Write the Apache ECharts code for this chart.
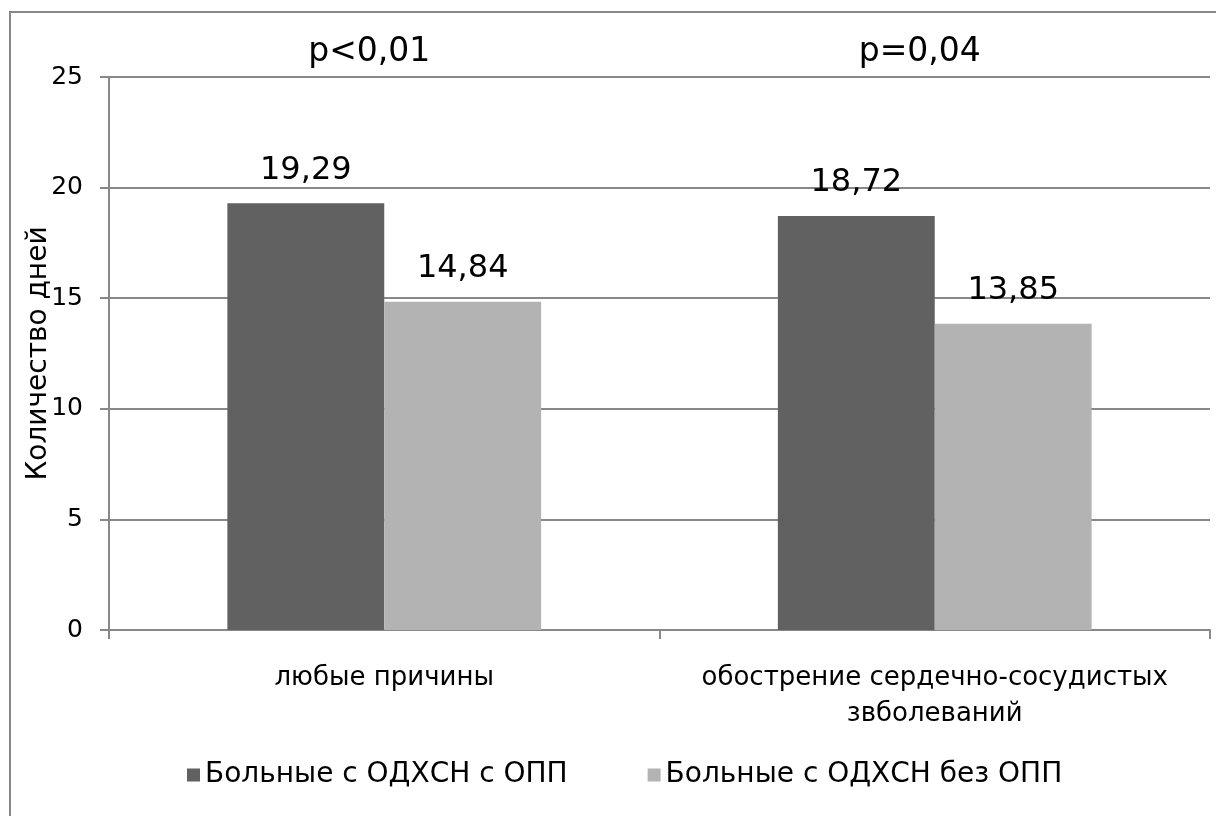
<!DOCTYPE html>
<html>
<head>
<meta charset="utf-8">
<script src="https://cdn.jsdelivr.net/npm/echarts@6/dist/echarts.min.js"></script>
<style>
  html, body { margin: 0; padding: 0; background: #fff; }
  #chart { width: 1216px; height: 816px; }
</style>
</head>
<body>
<div id="chart"></div>
<script>
// Reasons for hospitalisation
const categories = ['любые причины', 'обострение сердечно-сосудистых\nзвболеваний'];
// Mean number of days, by patient group
const seriesNames = ['Больные с ОДХСН с ОПП', 'Больные с ОДХСН без ОПП'];
const withOpp = [19.29, 18.72];
const withoutOpp = [14.84, 13.85];
// Significance of the difference per category
const pValues = ['p<0,01', 'p=0,04'];
const yTicks = { min: 0, max: 25, interval: 5 };

const FONT = 'DejaVu Sans';
const AXIS = '#888888';

const chart = echarts.init(document.getElementById('chart'), null, { renderer: 'canvas' });

const fmt = v => v.toFixed(2).replace('.', ',');

const labelStyle = {
  show: true,
  position: 'top',
  distance: 17,
  fontFamily: FONT,
  fontSize: 32,
  color: '#000',
  formatter: p => fmt(p.value)
};

chart.setOption({
  animation: false,
  backgroundColor: '#fff',
  textStyle: { fontFamily: FONT },
  grid: { left: 109, right: 6, top: 77, bottom: 186, containLabel: false },
  legend: {
    bottom: 22,
    left: 182,
    itemWidth: 13,
    itemHeight: 13,
    itemGap: 80,
    icon: 'rect',
    textStyle: { fontFamily: FONT, fontSize: 28, color: '#000' },
    data: seriesNames
  },
  xAxis: {
    type: 'category',
    data: categories,
    axisLine: { lineStyle: { color: AXIS, width: 2 } },
    axisTick: { show: true, interval: 0, length: 9, lineStyle: { color: AXIS, width: 2 } },
    axisLabel: {
      interval: 0,
      hideOverlap: false,
      fontFamily: FONT,
      fontSize: 26,
      color: '#000',
      margin: 30,
      lineHeight: 36
    }
  },
  yAxis: {
    type: 'value',
    min: yTicks.min,
    max: yTicks.max,
    interval: yTicks.interval,
    name: 'Количество дней',
    nameLocation: 'middle',
    nameRotate: 90,
    nameGap: 56,
    nameMoveOverlap: false,
    nameTextStyle: { fontFamily: FONT, fontSize: 28, color: '#000' },
    axisLine: { show: true, lineStyle: { color: AXIS, width: 2 } },
    axisTick: { show: true, length: 9, lineStyle: { color: AXIS, width: 2 } },
    axisLabel: { fontFamily: FONT, fontSize: 25, color: '#000', margin: 26 },
    splitLine: { lineStyle: { color: AXIS, width: 2 } }
  },
  series: [
    {
      name: seriesNames[0],
      type: 'bar',
      data: withOpp,
      barGap: '0%',
      barCategoryGap: '43%',
      itemStyle: { color: '#616161' },
      label: labelStyle
    },
    {
      name: seriesNames[1],
      type: 'bar',
      data: withoutOpp,
      itemStyle: { color: '#b3b3b3' },
      label: labelStyle
    }
  ]
});

// Chart frame plus p-value annotations centred a little left of each category centre
const graphics = [
  {
    id: 'frame',
    type: 'rect',
    x: 10, y: 12,
    shape: { width: 1230, height: 830 },
    style: { fill: 'transparent', stroke: AXIS, lineWidth: 2 },
    silent: true,
    z: -1
  }
].concat(pValues.map((txt, i) => ({
  id: 'p' + i,
  type: 'text',
  x: chart.convertToPixel({ xAxisIndex: 0 }, i) - 15,
  y: 52,
  style: {
    text: txt,
    fontFamily: FONT,
    fontSize: 33,
    fill: '#000',
    align: 'center',
    verticalAlign: 'middle'
  },
  silent: true
})));
chart.setOption({ graphic: graphics });
</script>
</body>
</html>
